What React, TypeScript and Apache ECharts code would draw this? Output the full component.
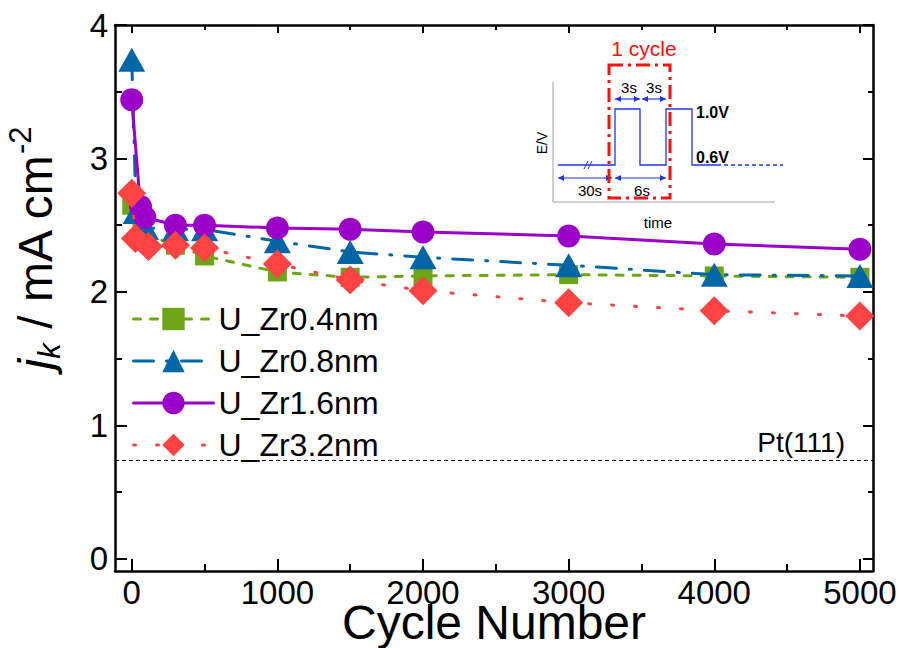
import React, { useEffect, useRef } from 'react';
import * as echarts from 'echarts';

const FONT = '"Liberation Sans", Arial, Helvetica, sans-serif';

// ---- data ----
const seriesNames = ['U_Zr0.4nm', 'U_Zr0.8nm', 'U_Zr1.6nm', 'U_Zr3.2nm'];
const zr04Cycles = [0, 70, 300, 500, 1000, 1500, 2000, 3000, 4000, 5000];
const zr04Values = [2.65, 2.44, 2.35, 2.27, 2.15, 2.11, 2.12, 2.13, 2.12, 2.11];
const zr08Cycles = [0, 30, 95, 300, 500, 1000, 1500, 2000, 3000, 4000, 5000];
const zr08Values = [3.74, 2.6, 2.48, 2.47, 2.47, 2.38, 2.3, 2.26, 2.2, 2.13, 2.12];
const zr16Cycles = [0, 60, 90, 300, 500, 1000, 1500, 2000, 3000, 4000, 5000];
const zr16Values = [3.44, 2.64, 2.56, 2.5, 2.5, 2.48, 2.47, 2.45, 2.42, 2.36, 2.32];
const zr32Cycles = [0, 25, 115, 300, 500, 1000, 1500, 2000, 3000, 4000, 5000];
const zr32Values = [2.74, 2.4, 2.34, 2.35, 2.33, 2.21, 2.09, 2.01, 1.92, 1.86, 1.82];
const pt111Value = 0.74;

const xMajorTicks = [0, 1000, 2000, 3000, 4000, 5000];
const xMinorTicks = [500, 1500, 2500, 3500, 4500];
const yMajorTicks = [0, 1, 2, 3, 4];
const yMinorTicks = [0.5, 1.5, 2.5, 3.5];
const X_MIN = -115;
const X_MAX = 5090;
const Y_MIN = -0.09;
const Y_MAX = 4;

const colors = ['#6CA516', '#0066A8', '#9A00C8', '#FF4242'];

const zip = (xs: number[], ys: number[]) => xs.map((x, i) => [x, ys[i]]);

function xAxisDef(position: string, ticks: number[], len: number, labels: boolean, line: boolean, extra: any = {}) {
  return {
    type: 'value',
    position,
    min: X_MIN,
    max: X_MAX,
    axisLine: { show: line, onZero: false, lineStyle: { color: '#000', width: 2.5 } },
    axisTick: { show: true, inside: true, length: len, customValues: ticks, lineStyle: { color: '#000', width: 2 } },
    axisLabel: labels
      ? {
          show: true,
          customValues: ticks,
          fontSize: 33,
          lineHeight: 30,
          color: '#000',
          margin: 6,
          fontFamily: FONT,
          formatter: (v: number) => String(v),
        }
      : { show: false },
    splitLine: { show: false },
    ...extra,
  };
}

function yAxisDef(position: string, ticks: number[], len: number, labels: boolean, line: boolean, extra: any = {}) {
  return {
    type: 'value',
    position,
    min: Y_MIN,
    max: Y_MAX,
    axisLine: { show: line, onZero: false, lineStyle: { color: '#000', width: 2.5 } },
    axisTick: { show: true, inside: true, length: len, customValues: ticks, lineStyle: { color: '#000', width: 2 } },
    axisLabel: labels
      ? {
          show: true,
          customValues: ticks,
          fontSize: 33,
          color: '#000',
          margin: 7,
          fontFamily: FONT,
          formatter: (v: number) => String(v),
        }
      : { show: false },
    splitLine: { show: false },
    ...extra,
  };
}

const waveBlue = '#2233EE';

function arrowEls(x1: number, x2: number, y: number) {
  const h = 3;
  const l = 6;
  return [
    { type: 'line', z: 20, shape: { x1, y1: y, x2, y2: y }, style: { stroke: waveBlue, lineWidth: 1.2 } },
    { type: 'polygon', z: 20, shape: { points: [[x1, y], [x1 + l, y - h], [x1 + l, y + h]] }, style: { fill: waveBlue } },
    { type: 'polygon', z: 20, shape: { points: [[x2, y], [x2 - l, y - h], [x2 - l, y + h]] }, style: { fill: waveBlue } },
  ];
}

function txt(text: string, x: number, y: number, size: number, opts: any = {}, rotation = 0) {
  return {
    type: 'text',
    z: 20,
    x,
    y,
    rotation,
    style: {
      text,
      fontSize: size,
      fontFamily: FONT,
      fill: '#000',
      textAlign: 'center',
      textVerticalAlign: 'middle',
      ...opts,
    },
  };
}

export default function App() {
  const ref = useRef<HTMLDivElement>(null);

  useEffect(() => {
    if (!ref.current) return;
    const chart = echarts.init(ref.current, undefined, { renderer: 'svg' });

    const lineTypes: any[] = [[7, 10], [20, 13, 2, 13], 'solid', [2, 21]];
    const symbols = ['rect', 'triangle', 'circle', 'diamond'];
    const sizes: any[] = [19, [27, 24], 23, [29, 29]];
    const datas = [
      zip(zr04Cycles, zr04Values),
      zip(zr08Cycles, zr08Values),
      zip(zr16Cycles, zr16Values),
      zip(zr32Cycles, zr32Values),
    ];

    const series: any[] = seriesNames.map((name, i) => ({
      type: 'line',
      name,
      data: datas[i],
      xAxisIndex: 0,
      yAxisIndex: 0,
      symbol: symbols[i],
      symbolSize: sizes[i],
      showAllSymbol: true,
      clip: false,
      z: 3 + i,
      lineStyle: { color: colors[i], width: 3, type: lineTypes[i], cap: 'round' },
      itemStyle: { color: colors[i], borderWidth: 0 },
      emphasis: { disabled: true },
    }));

    series[0].markLine = {
      silent: true,
      symbol: 'none',
      animation: false,
      lineStyle: { color: '#000', width: 1, type: [4, 3] },
      label: {
        show: true,
        position: 'insideEndTop',
        formatter: 'Pt(111)',
        fontSize: 28,
        fontFamily: FONT,
        color: '#000',
        distance: [28, 4],
      },
      data: [{ yAxis: pt111Value }],
    };

    const graphicEls: any[] = [
      // inset axes
      { type: 'polyline', z: 20, shape: { points: [[553, 82], [553, 202], [775, 202]] }, style: { stroke: '#A0A0A0', lineWidth: 1, fill: 'none' } },
      // waveform
      {
        type: 'polyline',
        z: 20,
        shape: {
          points: [[558, 165], [615, 165], [615, 109], [640, 109], [640, 165], [666, 165], [666, 109], [692, 109], [692, 165], [717, 165]],
        },
        style: { stroke: waveBlue, lineWidth: 1.3, fill: 'none' },
      },
      { type: 'line', z: 20, shape: { x1: 717, y1: 165, x2: 783, y2: 165 }, style: { stroke: waveBlue, lineWidth: 1.3, lineDash: [4, 3] } },
      { type: 'line', z: 20, shape: { x1: 584, y1: 169, x2: 588, y2: 161 }, style: { stroke: waveBlue, lineWidth: 1 } },
      { type: 'line', z: 20, shape: { x1: 588, y1: 169, x2: 592, y2: 161 }, style: { stroke: waveBlue, lineWidth: 1 } },
      // red cycle box
      {
        type: 'rect',
        z: 21,
        shape: { x: 609, y: 65, width: 61, height: 133 },
        style: { fill: 'none', stroke: '#FF1010', lineWidth: 3, lineDash: [14, 5, 3, 5] },
      },
      ...arrowEls(615, 640, 99),
      ...arrowEls(642, 666, 99),
      ...arrowEls(558, 612, 178),
      ...arrowEls(615, 666, 178),
      txt('1 cycle', 644, 48, 21, { fill: '#FF1010' }),
      txt('3s', 629, 87, 15),
      txt('3s', 654, 87, 15),
      txt('30s', 590, 190, 15),
      txt('6s', 642, 190, 15),
      txt('1.0V', 696, 112, 16, { fontWeight: 'bold', textAlign: 'left' }),
      txt('0.6V', 696, 157, 16, { fontWeight: 'bold', textAlign: 'left' }),
      txt('E/V', 542, 143, 14, {}, Math.PI / 2),
      txt('time', 658, 222, 15),
    ];

    const option: any = {
      animation: false,
      backgroundColor: '#fff',
      grid: { left: 115, right: 30, top: 25, bottom: 77, containLabel: false, outerBoundsMode: 'none' },
      legend: {
        data: seriesNames,
        orient: 'vertical',
        left: 132,
        top: 303,
        padding: 0,
        itemWidth: 80,
        itemHeight: 28,
        itemGap: 10,
        textStyle: { fontSize: 32, fontFamily: FONT, color: '#000' },
        lineStyle: { width: 3 },
        selectedMode: false,
      },
      xAxis: [
        xAxisDef('bottom', xMajorTicks, 12, true, true, {
          name: 'Cycle Number',
          nameLocation: 'middle',
          nameGap: 30,
          nameMoveOverlap: false,
          nameTextStyle: { fontSize: 48, lineHeight: 42, fontFamily: FONT, color: '#000' },
        }),
        xAxisDef('bottom', xMinorTicks, 7, false, false),
        xAxisDef('top', xMajorTicks, 8, false, true),
        xAxisDef('top', xMinorTicks, 5, false, false),
      ],
      yAxis: [
        yAxisDef('left', yMajorTicks, 12, true, true, {
          name: '{i|j}{sub|k}{n| / mA cm}{sup|-2}',
          nameLocation: 'middle',
          nameRotate: 90,
          nameGap: 50,
          nameTextStyle: {
            fontSize: 48,
            fontFamily: FONT,
            color: '#000',
            padding: [0, 0, 0, 100],
            rich: {
              i: { fontSize: 48, fontStyle: 'italic', fontFamily: FONT, color: '#000', lineHeight: 60 },
              sub: { fontSize: 31, fontStyle: 'italic', fontFamily: FONT, color: '#000', lineHeight: 30, verticalAlign: 'bottom' },
              n: { fontSize: 48, fontFamily: FONT, color: '#000', lineHeight: 60 },
              sup: { fontSize: 31, fontFamily: FONT, color: '#000', lineHeight: 30, verticalAlign: 'top' },
            },
          },
        }),
        yAxisDef('left', yMinorTicks, 7, false, false),
        yAxisDef('right', yMajorTicks, 10, false, true),
        yAxisDef('right', yMinorTicks, 5, false, false),
      ],
      series,
      graphic: { elements: graphicEls },
    };

    chart.setOption(option);
    return () => chart.dispose();
  }, []);

  return (
    <div
      ref={ref}
      style={{ position: 'fixed', left: 0, top: 0, width: 903, height: 648, background: '#fff' }}
    />
  );
}
